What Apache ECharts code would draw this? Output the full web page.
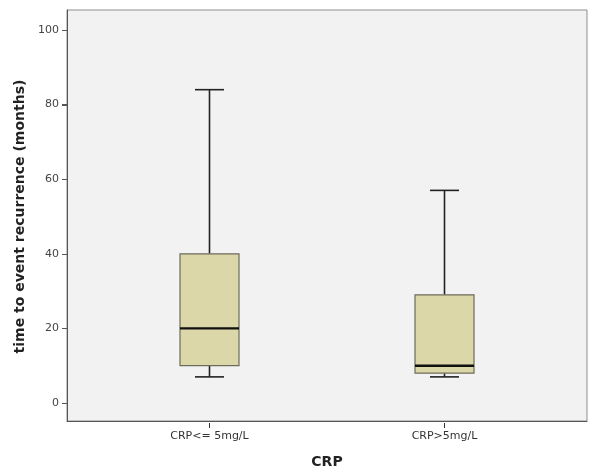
<!DOCTYPE html>
<html>
<head>
<meta charset="utf-8">
<script src="https://cdn.jsdelivr.net/npm/echarts@6/dist/echarts.min.js"></script>
<style>
html,body{margin:0;padding:0;background:#fff;}
#boxChart{width:600px;height:474px;}
</style>
</head>
<body>
<div id="boxChart"></div>
<script>
var categories = ['CRP<= 5mg/L', 'CRP>5mg/L'];
var mins = [7, 7];
var q1s = [10, 8];
var medians = [20, 10];
var q3s = [40, 29];
var maxs = [84, 57];
var yTicks = [0, 20, 40, 60, 80, 100];

var boxData = categories.map(function (c, i) {
	return [i, mins[i], q1s[i], medians[i], q3s[i], maxs[i]];
});
var tickData = yTicks.map(function (v) { return [0, v]; });

var boxChart = echarts.init(document.getElementById('boxChart'));

function renderBox(params, api) {
	var x = api.value(0);
	var pMin = api.coord([x, api.value(1)]);
	var pQ1 = api.coord([x, api.value(2)]);
	var pMed = api.coord([x, api.value(3)]);
	var pQ3 = api.coord([x, api.value(4)]);
	var pMax = api.coord([x, api.value(5)]);
	var cx = pMed[0];
	var half = 29.5, cap = 14.5;
	var whisker = { stroke: '#222', lineWidth: 1.6 };
	return {
		type: 'group',
		children: [{
			type: 'line',
			shape: { x1: cx, y1: pQ3[1], x2: cx, y2: pMax[1] },
			style: whisker
		}, {
			type: 'line',
			shape: { x1: cx - cap, y1: pMax[1], x2: cx + cap, y2: pMax[1] },
			style: whisker
		}, {
			type: 'line',
			shape: { x1: cx, y1: pQ1[1], x2: cx, y2: pMin[1] },
			style: whisker
		}, {
			type: 'line',
			shape: { x1: cx - cap, y1: pMin[1], x2: cx + cap, y2: pMin[1] },
			style: whisker
		}, {
			type: 'rect',
			shape: { x: cx - half, y: pQ3[1], width: half * 2, height: pQ1[1] - pQ3[1] },
			style: { fill: '#dbd7a8', stroke: '#6c6c5c', lineWidth: 1.2 }
		}, {
			type: 'line',
			shape: { x1: cx - half, y1: pMed[1], x2: cx + half, y2: pMed[1] },
			style: { stroke: '#111', lineWidth: 2.4 }
		}]
	};
}

// little outward ticks on the y axis
function renderTick(params, api) {
	var p = api.coord([api.value(0), api.value(1)]);
	return {
		type: 'line',
		shape: { x1: p[0] - 5, y1: Math.round(p[1]) + 0.5, x2: p[0], y2: Math.round(p[1]) + 0.5 },
		style: { stroke: '#555', lineWidth: 1 }
	};
}

var option = {
	backgroundColor: '#fff',
	textStyle: {
		fontFamily: 'DejaVu Sans'
	},
	grid: [{
		// frame
		left: 67, right: 13, top: 10, bottom: 51,
		show: true,
		backgroundColor: '#f2f2f2',
		borderColor: '#8f8f8f',
		borderWidth: 1
	}, {
		// value scale 0..100
		left: 67, right: 13, top: 30, bottom: 71
	}, {
		// boxes
		left: 92, right: 38, top: 30, bottom: 71
	}],
	xAxis: [{
		gridIndex: 0,
		type: 'category',
		data: ['a'],
		axisLine: { onZero: false, lineStyle: { color: '#555', width: 1 } },
		axisTick: { show: false },
		axisLabel: { show: false },
		name: 'CRP',
		nameLocation: 'middle',
		nameGap: 34,
		nameTextStyle: { color: '#222', fontWeight: 'bold', fontSize: 14 }
	}, {
		gridIndex: 1,
		type: 'value',
		min: 0,
		max: 1,
		show: false
	}, {
		gridIndex: 2,
		type: 'category',
		data: categories,
		offset: 20,
		axisLine: { show: false, onZero: false },
		axisTick: { show: true, alignWithLabel: true, length: 5, lineStyle: { color: '#333' } },
		axisLabel: { color: '#333', fontSize: 11, margin: 8 },
		splitLine: { show: false }
	}],
	yAxis: [{
		gridIndex: 0,
		type: 'value',
		axisLine: { show: true, lineStyle: { color: '#555', width: 1 } },
		axisTick: { show: false },
		axisLabel: { show: false },
		splitLine: { show: false }
	}, {
		gridIndex: 1,
		type: 'value',
		min: yTicks[0],
		max: yTicks[yTicks.length - 1],
		interval: 20,
		axisLine: { show: true, onZero: false, lineStyle: { color: '#555', width: 1 } },
		axisTick: { show: true, length: 5, lineStyle: { color: '#555', width: 1 } },
		axisLabel: { color: '#444', fontSize: 11, margin: 8 },
		splitLine: { show: false },
		name: 'time to event recurrence (months)',
		nameLocation: 'middle',
		nameGap: 40,
		nameTextStyle: { color: '#222', fontWeight: 'bold', fontSize: 14 }
	}, {
		gridIndex: 2,
		type: 'value',
		min: yTicks[0],
		max: yTicks[yTicks.length - 1],
		show: false
	}],
	series: [{
		type: 'custom',
		xAxisIndex: 2,
		yAxisIndex: 2,
		renderItem: renderBox,
		encode: { x: 0, y: [1, 2, 3, 4, 5] },
		silent: true,
		data: boxData
	}, {
		type: 'custom',
		xAxisIndex: 1,
		yAxisIndex: 1,
		renderItem: renderTick,
		clip: false,
		silent: true,
		encode: { x: 0, y: 1 },
		data: tickData
	}]
};
boxChart.setOption(option);
</script>
</body>
</html>
